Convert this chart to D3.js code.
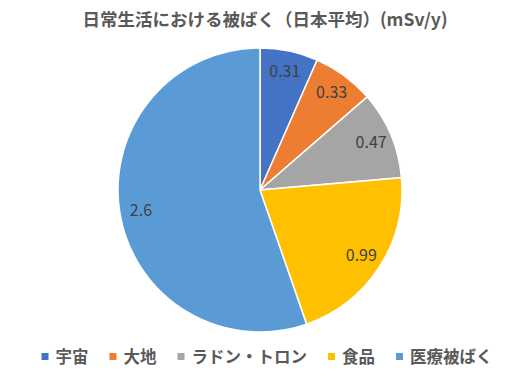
<!DOCTYPE html>
<html>
<head>
<meta charset="utf-8">
<script src="https://cdn.jsdelivr.net/npm/d3@7"></script>
<style>
  body { margin: 0; background: #fff; }
  text { font-family: "Noto Sans CJK JP", "Noto Sans", sans-serif; }
</style>
</head>
<body>
<div id="chart"></div>
<script>
// data
var categories = ["宇宙", "大地", "ラドン・トロン", "食品", "医療被ばく"];
var values = [0.31, 0.33, 0.47, 0.99, 2.6];
var labels = ["0.31", "0.33", "0.47", "0.99", "2.6"];
var colors = ["#4472C4", "#ED7D31", "#A5A5A5", "#FFC000", "#5B9BD5"];
var title = "日常生活における被ばく（日本平均）(mSv/y)";

var width = 531, height = 379;
var cx = 260, cy = 190, radius = 142;

var svg = d3.select("#chart")
    .append("svg")
    .attr("width", width)
    .attr("height", height);

// title
svg.append("text")
    .attr("x", 265)
    .attr("y", 26)
    .attr("text-anchor", "middle")
    .attr("font-size", 17.5)
    .attr("font-weight", "bold")
    .attr("fill", "#595959")
    .text(title);

var color = d3.scaleOrdinal().domain(categories).range(colors);

var pie = d3.pie()
    .sort(null)
    .value(function (d) { return d.value; });

var data = categories.map(function (c, i) {
    return { name: c, value: values[i], label: labels[i] };
});

var arc = d3.arc().innerRadius(0).outerRadius(radius);
var labelArc = d3.arc().innerRadius(radius * 0.85).outerRadius(radius * 0.85);

var g = svg.append("g")
    .attr("transform", "translate(" + cx + "," + cy + ")");

var slices = g.selectAll(".slice")
    .data(pie(data))
    .enter()
    .append("g")
    .attr("class", "slice");

slices.append("path")
    .attr("d", arc)
    .attr("fill", function (d) { return color(d.data.name); })
    .attr("stroke", "#fff")
    .attr("stroke-width", 1.5);

slices.append("text")
    .attr("transform", function (d) { return "translate(" + labelArc.centroid(d) + ")"; })
    .attr("dy", "0.35em")
    .attr("text-anchor", "middle")
    .attr("font-family", "'Noto Sans', sans-serif")
    .attr("font-size", 16)
    .attr("fill", "#404040")
    .text(function (d) { return d.data.label; });

// legend
var legend = svg.append("g").attr("class", "legend");
var items = legend.selectAll(".item")
    .data(categories)
    .enter()
    .append("g")
    .attr("class", "item");

items.append("rect")
    .attr("width", 7)
    .attr("height", 7)
    .attr("y", -4)
    .attr("fill", color);

items.append("text")
    .attr("x", 14)
    .attr("dy", "0.35em")
    .attr("font-size", 16.5)
    .attr("font-weight", "bold")
    .attr("fill", "#595959")
    .text(function (d) { return d; });

var xPos = 0, gap = 21;
items.each(function () {
    var w = d3.select(this).select("text").node().getComputedTextLength();
    d3.select(this).attr("transform", "translate(" + xPos + ",0)");
    xPos += 14 + w + gap;
});
var total = xPos - gap;
legend.attr("transform", "translate(" + (267 - total / 2) + ",357)");
</script>
</body>
</html>
